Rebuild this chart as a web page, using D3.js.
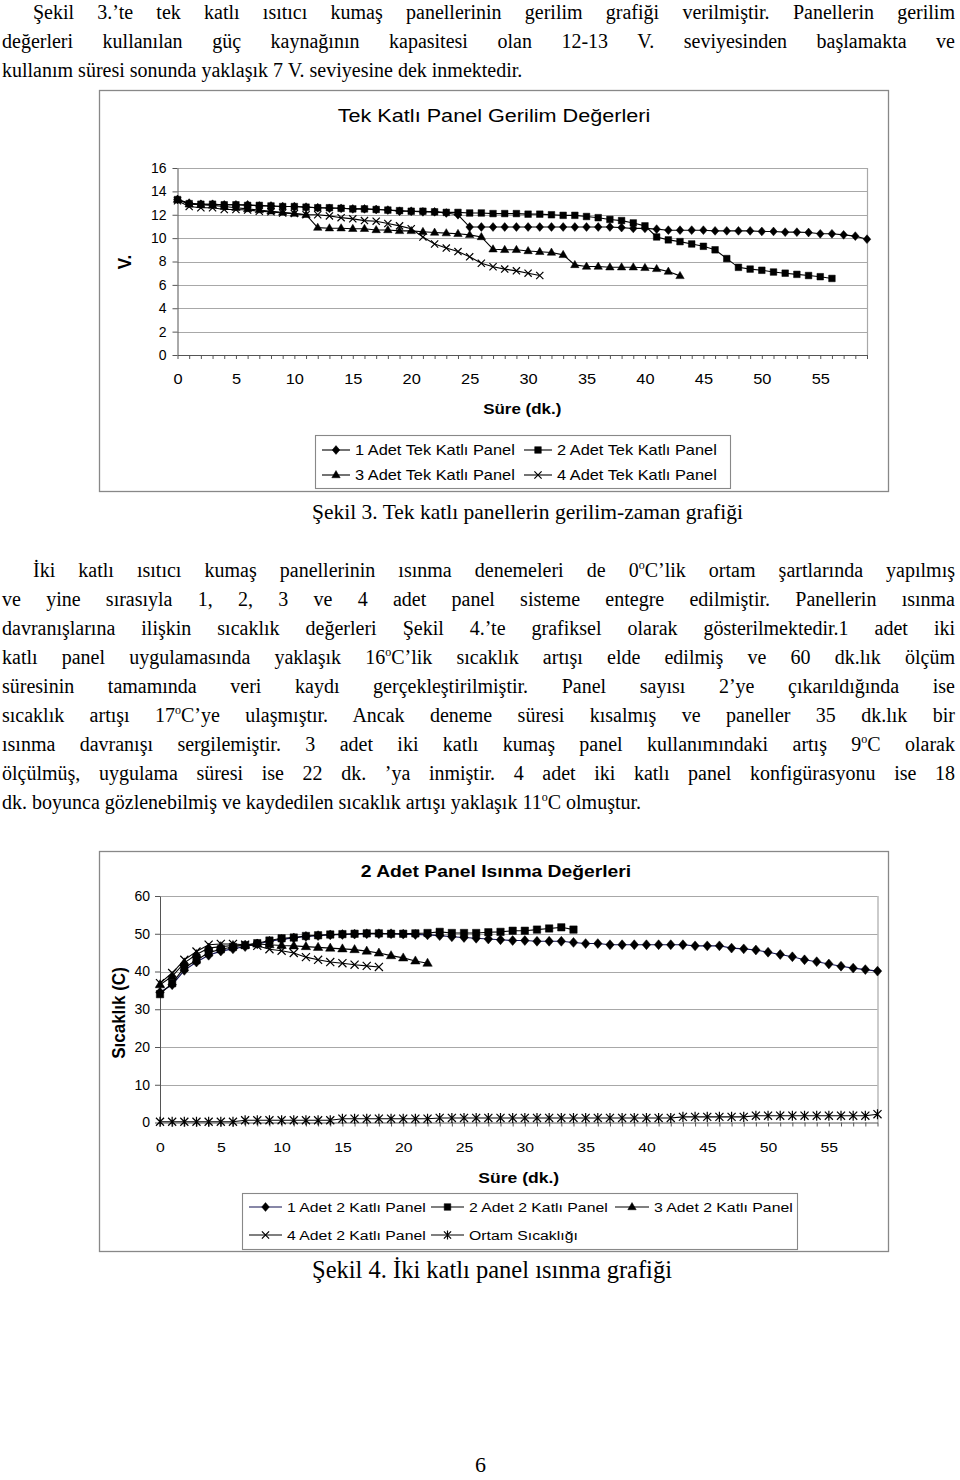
<!DOCTYPE html>
<html><head><meta charset="utf-8">
<script src="https://cdn.jsdelivr.net/npm/d3@7"></script>
<style>
body{margin:0;width:960px;height:1480px;background:#fff;position:relative;overflow:hidden}
.t{position:absolute;font-family:"Liberation Serif","Times New Roman",serif;font-size:20px;line-height:20px;color:#000;white-space:nowrap}
.j{text-align:justify;text-align-last:justify;white-space:normal}
sup{font-size:12px;vertical-align:baseline;position:relative;top:-8px}
svg{position:absolute;left:0;top:0}
</style></head><body>
<script>
// ---------- text ----------
const para1Lines = [
  "Şekil 3.’te tek katlı ısıtıcı kumaş panellerinin gerilim grafiği verilmiştir. Panellerin gerilim",
  "değerleri kullanılan güç kaynağının kapasitesi olan 12-13 V. seviyesinden başlamakta ve",
  "kullanım süresi sonunda yaklaşık 7 V. seviyesine dek inmektedir."
];
const caption1 = "Şekil 3. Tek katlı panellerin gerilim-zaman grafiği";
const para2Lines = [
  "İki katlı ısıtıcı kumaş panellerinin ısınma denemeleri de 0{o}C’lik ortam şartlarında yapılmış",
  "ve yine sırasıyla 1, 2, 3 ve 4 adet panel sisteme entegre edilmiştir. Panellerin ısınma",
  "davranışlarına ilişkin sıcaklık değerleri Şekil 4.’te grafiksel olarak gösterilmektedir.1 adet iki",
  "katlı panel uygulamasında yaklaşık 16{o}C’lik sıcaklık artışı elde edilmiş ve 60 dk.lık ölçüm",
  "süresinin tamamında veri kaydı gerçekleştirilmiştir. Panel sayısı 2’ye çıkarıldığında ise",
  "sıcaklık artışı 17{o}C’ye ulaşmıştır. Ancak deneme süresi kısalmış ve paneller 35 dk.lık bir",
  "ısınma davranışı sergilemiştir. 3 adet iki katlı kumaş panel kullanımındaki artış 9{o}C olarak",
  "ölçülmüş, uygulama süresi ise 22 dk. ’ya inmiştir. 4 adet iki katlı panel konfigürasyonu ise 18",
  "dk. boyunca gözlenebilmiş ve kaydedilen sıcaklık artışı yaklaşık 11{o}C olmuştur."
];
const caption2 = "Şekil 4. İki katlı panel ısınma grafiği";
const pageNumber = "6";

// ---------- chart 1 data (V.) ----------
const chart1Title = "Tek Katlı Panel Gerilim Değerleri";
const chart1YTicks = [0, 2, 4, 6, 8, 10, 12, 14, 16];
const xTickLabels = ["0","5","10","15","20","25","30","35","40","45","50","55"];
const tek1 = [13.3,13.0,12.9,12.9,12.85,12.85,12.85,12.75,12.75,12.7,12.7,12.65,12.6,12.55,12.55,12.5,12.5,12.45,12.4,12.3,
  12.3,12.25,12.25,12.15,12.0,10.95,10.95,10.95,10.95,10.95,10.95,10.95,10.95,10.95,10.95,10.95,10.95,10.95,10.9,10.83,
  10.83,10.77,10.68,10.68,10.68,10.68,10.62,10.62,10.62,10.62,10.57,10.57,10.51,10.51,10.48,10.37,10.37,10.28,10.17,9.91];
const tek2 = [13.3,12.95,12.9,12.9,12.85,12.85,12.8,12.8,12.75,12.7,12.7,12.65,12.6,12.6,12.55,12.5,12.5,12.45,12.4,12.35,
  12.3,12.3,12.25,12.2,12.2,12.15,12.15,12.1,12.1,12.1,12.05,12.05,12.0,11.95,11.95,11.85,11.75,11.6,11.5,11.3,
  11.05,10.1,9.85,9.7,9.5,9.3,9.0,8.25,7.5,7.35,7.25,7.1,7.0,6.9,6.8,6.7,6.55];
const tek3 = [13.3,12.9,12.85,12.8,12.7,12.6,12.5,12.4,12.3,12.2,12.1,12.0,10.9,10.85,10.85,10.8,10.8,10.7,10.7,10.62,
  10.62,10.54,10.48,10.43,10.37,10.28,10.1,9.05,9.0,9.0,8.9,8.83,8.77,8.57,7.71,7.57,7.57,7.51,7.51,7.51,
  7.46,7.37,7.14,6.77];
const tek4 = [13.2,12.7,12.6,12.6,12.45,12.45,12.4,12.3,12.25,12.15,12.1,12.0,12.0,11.9,11.75,11.65,11.5,11.45,11.25,11.05,
  10.8,10.1,9.5,9.15,8.85,8.4,7.85,7.55,7.35,7.2,7.0,6.8];
const chart1Names = ["1 Adet Tek Katlı Panel","2 Adet Tek Katlı Panel","3 Adet Tek Katlı Panel","4 Adet Tek Katlı Panel"];

// ---------- chart 2 data (°C) ----------
const chart2Title = "2 Adet Panel Isınma Değerleri";
const chart2YTicks = [0, 10, 20, 30, 40, 50, 60];
const cift1 = [34.5,36.5,40.3,42.5,44.3,45.4,46.0,46.6,47.3,48.0,48.5,48.9,49.3,49.5,49.7,49.8,49.9,50.0,50.0,50.0,
  49.9,49.8,49.7,49.5,49.2,49.0,48.8,48.6,48.4,48.2,48.2,48.0,48.0,48.0,47.7,47.4,47.4,47.1,47.1,47.1,
  47.1,47.1,47.1,47.1,46.8,46.8,46.8,46.2,46.0,45.7,45.1,44.5,43.9,43.1,42.6,42.0,41.4,40.9,40.5,40.1];
const cift2 = [34.0,36.9,41.0,43.0,45.0,45.9,46.5,47.0,47.5,48.2,48.8,49.0,49.4,49.6,49.8,49.9,50.0,50.1,50.1,50.0,
  50.0,50.1,50.2,50.5,50.2,50.2,50.2,50.4,50.5,50.8,50.8,51.1,51.4,51.7,51.1];
const cift3 = [36.5,38.7,42.3,44.5,46.2,46.6,46.9,47.0,47.3,47.1,46.9,46.8,46.6,46.4,46.2,46.0,45.8,45.4,44.9,44.2,
  43.6,42.8,42.2];
const cift4 = [36.9,39.6,43.1,45.3,47.1,47.3,47.3,47.1,46.8,45.9,45.5,44.9,43.8,43.1,42.5,42.2,41.8,41.5,41.2];
const ortam = [0.2,0.2,0.2,0.2,0.2,0.2,0.2,0.6,0.6,0.6,0.6,0.6,0.6,0.6,0.6,1.0,1.0,1.0,1.0,1.0,
  1.0,1.0,1.0,1.2,1.2,1.2,1.2,1.2,1.2,1.2,1.2,1.2,1.2,1.2,1.2,1.2,1.2,1.2,1.2,1.2,
  1.2,1.2,1.2,1.5,1.5,1.5,1.5,1.5,1.5,1.8,1.8,1.8,1.8,1.8,1.8,1.8,1.8,1.8,1.8,2.2];
const chart2Names = ["1 Adet 2 Katlı Panel","2 Adet 2 Katlı Panel","3 Adet 2 Katlı Panel","4 Adet 2 Katlı Panel","Ortam Sıcaklığı"];
const xAxisTitle = "Süre (dk.)";

// ---------- page text ----------
const body = d3.select("body");
function html(s){ return s.replace(/\{o\}/g, "<sup>o</sup>"); }
function line(s, left, top, width, justify){
  const d = body.append("div").attr("class", "t" + (justify ? " j" : ""))
    .style("left", left + "px").style("top", top + "px").html(html(s));
  if (justify) d.style("width", width + "px");
  return d;
}
para1Lines.forEach((s, i) => {
  const left = i === 0 ? 33 : 2;
  line(s, left, 2 + i * 29, 955 - left, i < para1Lines.length - 1);
});
line(caption1, 312, 502, 0, false).style("font-size", "21.5px");
para2Lines.forEach((s, i) => {
  const left = i === 0 ? 33 : 2;
  line(s, left, 560 + i * 29, 955 - left, i < para2Lines.length - 1);
});
line(caption2, 312, 1260, 0, false).style("font-size", "24.5px");
line(pageNumber, 475, 1455, 0, false).style("font-size", "22px");

// ---------- charts ----------
const SX = 1.17;
const FONT = "'Liberation Sans', Arial, sans-serif";
const svg = body.append("svg").attr("width", 960).attr("height", 1480);

const markers = {
  diamond: (w, h) => `M0,${-h}L${w},0L0,${h}L${-w},0Z`,
  square: (s) => `M${-s},${-s}H${s}V${s}H${-s}Z`,
  triangle: (w, h) => `M0,${-h*0.62}L${w},${h*0.38}L${-w},${h*0.38}Z`,
  cross: (a) => `M${-a},${-a}L${a},${a}M${-a},${a}L${a},${-a}`,
  star: (a) => `M${-a},${-a}L${a},${a}M${-a},${a}L${a},${-a}M0,${-a*1.25}L0,${a*1.25}`
};
function drawMarker(g, type, cx, cy, big){
  const k = big ? 1.12 : 1;
  let d, filled = true;
  if (type === "diamond") d = markers.diamond(3.8*k, 4.4*k);
  else if (type === "square") d = markers.square(3.3*k);
  else if (type === "triangle") d = markers.triangle(4.2*k, 7.2*k);
  else if (type === "cross") { d = markers.cross(3.6*k); filled = false; }
  else { d = markers.star(3.6*k); filled = false; }
  g.append("path").attr("d", d).attr("transform", `translate(${cx},${cy})`)
    .attr("fill", filled ? "#000" : "none").attr("stroke", "#000")
    .attr("stroke-width", filled ? 0.5 : 1.2);
}
function stext(g, x, y, s, size, opts = {}){
  const sx = opts.sx || SX;
  const t = g.append("text")
    .attr("transform", `translate(${x},${y}) scale(${sx},1)` + (opts.rotate ? ` rotate(${opts.rotate})` : ""))
    .attr("text-anchor", opts.anchor || "start").attr("dy", "0.35em")
    .attr("font-family", FONT).attr("font-size", size)
    .attr("font-weight", opts.bold ? "bold" : "normal").attr("fill", "#000").text(s);
  return t;
}

function chart(cfg){
  const g = svg.append("g");
  const {x, y} = cfg;
  const [x0, x1] = x.range(), [yb, yt] = y.range();
  g.append("rect").attr("x", cfg.box[0] + 0.5).attr("y", cfg.box[1] + 0.5)
    .attr("width", cfg.box[2]).attr("height", cfg.box[3])
    .attr("fill", "#fff").attr("stroke", "#888").attr("stroke-width", 1.3);
  // gridlines
  g.append("g").selectAll("line").data(cfg.yTicks.filter(v => v > 0)).join("line")
    .attr("x1", x0).attr("x2", x1).attr("y1", d => Math.round(y(d)) + 0.5).attr("y2", d => Math.round(y(d)) + 0.5)
    .attr("stroke", "#a8a8a8").attr("stroke-width", 1.2);
  g.append("line").attr("x1", x1 + 0.5).attr("x2", x1 + 0.5).attr("y1", yt).attr("y2", yb)
    .attr("stroke", "#a8a8a8").attr("stroke-width", 1.2);
  // y axis
  const ya = g.append("g").attr("transform", `translate(${x0},0)`)
    .call(d3.axisLeft(y).tickValues(cfg.yTicks).tickSizeInner(5).tickSizeOuter(0).tickPadding(cfg.yPad));
  ya.selectAll("text").attr("font-family", FONT).attr("font-size", cfg.yFont).attr("fill", "#000");
  ya.selectAll("line,path").attr("stroke", "#555");
  // x axis: minor ticks every minute, labels every 5
  const xa = g.append("g").attr("transform", `translate(0,${yb})`)
    .call(d3.axisBottom(x).tickValues(d3.range(0, 60)).tickSizeInner(4).tickSizeOuter(0).tickPadding(cfg.xPad)
      .tickFormat(d => (d % 5 === 0 ? xTickLabels[d / 5] : "")));
  xa.selectAll("text").attr("font-family", FONT).attr("font-size", cfg.xFont).attr("fill", "#000")
    .attr("transform", `scale(${SX},1)`);
  xa.selectAll("line,path").attr("stroke", "#555");
  // titles
  stext(g, cfg.titlePos[0], cfg.titlePos[1], cfg.title, cfg.titleFont, {anchor: "middle", bold: cfg.titleBold});
  stext(g, (x0 + x1) / 2, cfg.xTitleY, xAxisTitle, cfg.xTitleFont, {anchor: "middle", bold: true});
  stext(g, cfg.yTitlePos[0], cfg.yTitlePos[1], cfg.yTitle, cfg.yTitleFont, {anchor: "middle", bold: true, rotate: -90, sx: 1.1});
  // series
  const lineGen = d3.line().x((d, i) => x(i)).y(d => y(d));
  cfg.series.forEach(s => {
    g.append("path").attr("d", lineGen(s.values)).attr("fill", "none")
      .attr("stroke", s.color || "#000").attr("stroke-width", 1.1);
  });
  cfg.series.forEach(s => {
    const mg = g.append("g");
    s.values.forEach((v, i) => drawMarker(mg, s.marker, x(i), y(v), cfg.big));
  });
  // legend
  const L = cfg.legend;
  g.append("rect").attr("x", L.box[0] + 0.5).attr("y", L.box[1] + 0.5).attr("width", L.box[2]).attr("height", L.box[3])
    .attr("fill", "#fff").attr("stroke", "#888").attr("stroke-width", 1.1);
  cfg.series.forEach((s, i) => {
    const [lx0, lx1, tx, ly] = L.items[i];
    g.append("line").attr("x1", lx0).attr("x2", lx1).attr("y1", ly).attr("y2", ly)
      .attr("stroke", s.color || "#000").attr("stroke-width", 1.1);
    drawMarker(g, s.marker, (lx0 + lx1) / 2, ly, false);
    stext(g, tx, ly, s.name, L.font);
  });
}

chart({
  box: [99, 90, 789, 401],
  x: d3.scaleLinear([0, 59], [177.5, 867]),
  y: d3.scaleLinear([0, 16], [355, 168]),
  yTicks: chart1YTicks, yPad: 6, yFont: 14, xPad: 15, xFont: 14,
  title: chart1Title, titlePos: [494, 116], titleFont: 18.5, titleBold: false,
  xTitleY: 409, xTitleFont: 14.5,
  yTitle: "V.", yTitlePos: [124, 262], yTitleFont: 17,
  big: false,
  series: [
    {name: chart1Names[0], values: tek1, marker: "diamond"},
    {name: chart1Names[1], values: tek2, marker: "square"},
    {name: chart1Names[2], values: tek3, marker: "triangle"},
    {name: chart1Names[3], values: tek4, marker: "cross"}
  ],
  legend: {
    box: [315, 435, 415, 53], font: 14,
    items: [[322, 350, 355, 450], [524, 552, 557, 450], [322, 350, 355, 475], [524, 552, 557, 475]]
  }
});

chart({
  box: [99, 851, 789, 400],
  x: d3.scaleLinear([0, 59], [160, 877.5]),
  y: d3.scaleLinear([0, 60], [1122.5, 896]),
  yTicks: chart2YTicks, yPad: 5, yFont: 14, xPad: 16, xFont: 13.5,
  title: chart2Title, titlePos: [496, 871], titleFont: 16.5, titleBold: true,
  xTitleY: 1178, xTitleFont: 15,
  yTitle: "Sıcaklık (C)", yTitlePos: [118, 1013], yTitleFont: 17,
  big: true,
  series: [
    {name: chart2Names[0], values: cift1, marker: "diamond", color: "#101050"},
    {name: chart2Names[1], values: cift2, marker: "square"},
    {name: chart2Names[2], values: cift3, marker: "triangle"},
    {name: chart2Names[3], values: cift4, marker: "cross"},
    {name: chart2Names[4], values: ortam, marker: "star"}
  ],
  legend: {
    box: [242, 1193, 555, 56], font: 13.5,
    items: [[249, 282, 287, 1207], [431, 464, 469, 1207], [615, 649, 654, 1207], [249, 282, 287, 1235], [431, 464, 469, 1235]]
  }
});
</script>
</body></html>
